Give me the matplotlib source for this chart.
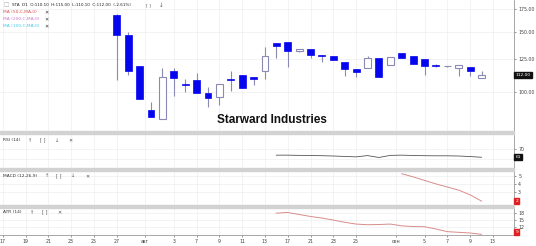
import matplotlib.pyplot as plt
import numpy as np
from matplotlib.patches import Rectangle

# daily candles (bar index 0 = first visible candle)
opens = [168.7, 147.4, 119.2, 88.5, 83.5, 115.5, 105.4, 108.2, 99.1, 96.5, 109.0,
         112.0, 110.5, 115.3, 139.0, 140.0, 132.2, 133.5, 128.7, 127.6, 122.8, 117.1,
         117.4, 125.9, 120.3, 130.2, 127.9, 124.8, 119.7, 119.0, 117.9, 118.7, 110.1]
highs = [169.5, 149.8, 119.2, 93.3, 117.9, 117.9, 109.0, 113.7, 103.2, 105.6, 115.3,
         112.0, 110.5, 135.9, 139.0, 140.0, 133.8, 133.5, 128.7, 127.6, 122.8, 117.1,
         127.6, 125.9, 127.0, 130.2, 127.9, 124.8, 120.6, 119.4, 120.3, 118.7, 115.0]
lows = [108.5, 112.4, 95.4, 84.4, 83.5, 97.5, 99.8, 99.5, 90.5, 91.6, 100.7,
        102.5, 104.6, 109.4, 125.6, 118.7, 130.8, 125.6, 122.3, 124.2, 111.4, 110.5,
        117.4, 110.5, 120.3, 125.6, 120.6, 112.2, 118.4, 118.8, 111.7, 111.7, 110.1]
closes = [147.4, 115.0, 95.4, 84.4, 110.5, 110.2, 104.8, 99.5, 96.2, 105.6, 108.5,
          102.5, 109.2, 127.6, 136.5, 132.2, 133.8, 128.4, 127.9, 124.2, 116.6, 114.3,
          125.6, 110.5, 127.0, 125.6, 120.6, 119.5, 119.0, 119.2, 120.3, 115.0, 112.0]

rsi_start = 14
rsi = [63.8, 63.8, 63.6, 63.5, 63.3, 63.0, 62.6, 62.2, 63.4, 61.6, 63.6, 63.8,
       63.5, 63.3, 63.2, 63.2, 63.0, 62.5, 61.8]
macd_start = 25
macd = [5.3, 4.9, 4.45, 4.0, 3.6, 3.2, 2.6, 1.8]
atr_start = 14
atr = [18.1, 18.4, 17.5, 16.6, 15.9, 15.0, 14.0, 13.2, 12.9, 13.0, 13.2, 12.4,
       12.1, 12.0, 11.0, 9.8, 9.5, 9.2, 8.6]

tick_pos = [-10, -8, -6, -4, -2, 0, 2.5, 5, 7, 9, 11, 13, 15, 17, 19, 21, 24.5, 27, 29, 31, 33]
tick_lab = ["17", "19", "21", "23", "25", "27", "авг", "3", "7", "9", "11", "13",
            "17", "21", "23", "25", "сен", "5", "7", "9", "13"]

W, H = 536, 246
fig = plt.figure(figsize=(W / 100, H / 100), dpi=100)
fig.patch.set_facecolor("white")


def rect(x0, y0, x1, y1):
    return [x0 / W, 1 - y1 / H, (x1 - x0) / W, (y1 - y0) / H]


XR = 514
ax = fig.add_axes(rect(0, 0, XR, 131))
ax_rsi = fig.add_axes(rect(0, 135, XR, 168), sharex=ax)
ax_macd = fig.add_axes(rect(0, 171, XR, 205), sharex=ax)
ax_atr = fig.add_axes(rect(0, 208, XR, 235), sharex=ax)

# separators between panes
for y0, y1 in [(131, 134), (168, 170.5), (205, 207.5)]:
    fig.patches.append(Rectangle((0, 1 - y1 / H), XR / W, (y1 - y0) / H,
                                 transform=fig.transFigure, color="#d2d2d2", zorder=5))

blue = "#0505ee"
edge = "#8a8ab4"
x = np.arange(len(opens))
o = np.array(opens)
c = np.array(closes)
up = c >= o
ax.vlines(x, lows, highs, color=edge, lw=0.8, zorder=2)
bottom = np.minimum(o, c)
height = np.maximum(np.abs(c - o), 0.6)
ax.bar(x[~up], height[~up], bottom=bottom[~up], width=0.6, color=blue,
       edgecolor=blue, lw=0.5, zorder=3)
ax.bar(x[up], height[up], bottom=bottom[up], width=0.6, color="white",
       edgecolor=edge, lw=0.8, zorder=3)

ax.set_yscale("log")
ax.set_ylim(76.8, 186.4)
ax.set_xlim(-10.24, 34.85)
ax.set_yticks([100, 125, 150, 175])
ax.set_yticklabels(["100.00", "125.00", "150.00", "175.00"])
ax.minorticks_off()

ax.text(271.7 / XR, 1 - 120 / 131, "Starward Industries", transform=ax.transAxes,
        ha="center", va="center", fontsize=8.5, fontweight="bold",
        family="Liberation Sans", color="#111111")

# header / legend texts
ax.text(3 / XR, 1 - 5 / 131, "\u25a1", transform=ax.transAxes, fontsize=4,
        color="#aaaaaa", va="center")
ax.text(12 / XR, 1 - 5 / 131, "STA  D1  O:110.10  H:115.00  L:110.10  C:112.00  (-2.61%)",
        transform=ax.transAxes, fontsize=3.0, color="#222222", va="center")
ax.text(148 / XR, 1 - 5 / 131, "[ ]", transform=ax.transAxes, fontsize=3.2,
        color="#555555", va="center", ha="center")
ax.text(161 / XR, 1 - 5 / 131, "↓", transform=ax.transAxes, fontsize=4,
        color="#555555", va="center", ha="center")
ma_lab = ["MA (50,C,MA,0)", "MA (200,C,MA,0)", "MA (100,C,MA,0)"]
ma_col = ["#e05050", "#cc77cc", "#44c8e8"]
for i, (lab, col) in enumerate(zip(ma_lab, ma_col)):
    yy = 1 - (11.7 + 7.3 * i) / 131
    ax.text(3.3 / XR, yy, lab, transform=ax.transAxes, fontsize=3.2, color=col, va="center")
    ax.text(44 / XR, yy, "✕", transform=ax.transAxes, fontsize=3.6, color="#333333",
            va="center")

# indicator lines
ax_rsi.plot(np.arange(len(rsi)) + rsi_start, rsi, color="#555555", lw=0.6)
ax_rsi.set_ylim(51.7, 82.8)
ax_rsi.set_yticks([60, 70])
ax_rsi.set_yticklabels(["", "70"])
ax_macd.plot(np.arange(len(macd)) + macd_start, macd, color="#d98c8c", lw=0.7)
ax_macd.set_ylim(1.3, 5.65)
ax_macd.set_yticks([3, 4, 5])
ax_atr.plot(np.arange(len(atr)) + atr_start, atr, color="#d98c8c", lw=0.7)
ax_atr.set_ylim(8.3, 20.4)
ax_atr.set_yticks([12, 15, 18])

pane_labels = [(ax_rsi, "RSI (14)", [30, 43, 57, 70], ["↑", "[ ]", "↓", "✕"], 140 - 135, 33),
               (ax_macd, "MACD (12,26,9)", [47, 59, 73, 87], ["↑", "[ ]", "↓", "✕"], 175.7 - 171, 34),
               (ax_atr, "ATR (14)", [32, 45, 59], ["↑", "[ ]", "✕"], 212.3 - 208, 27)]
for a, lab, xs, icons, ypx, hpx in pane_labels:
    yy = 1 - ypx / hpx
    a.text(3 / XR, yy, lab, transform=a.transAxes, fontsize=3.2, color="#333333", va="center")
    for xi, ic in zip(xs, icons):
        a.text(xi / XR, yy, ic, transform=a.transAxes, fontsize=3.6, color="#555555",
               va="center", ha="center")

for a in [ax, ax_rsi, ax_macd, ax_atr]:
    a.set_facecolor("white")
    for s in ["left", "top", "bottom"]:
        a.spines[s].set_visible(False)
    a.spines["right"].set_color("#999999")
    a.spines["right"].set_linewidth(0.6)
    a.yaxis.tick_right()
    a.tick_params(axis="y", labelsize=3.4, length=1.5, width=0.4, colors="#444444", pad=1.5)
    a.set_xticks(tick_pos)
    a.grid(True, color="#eeeeee", lw=0.5)
    a.set_axisbelow(True)
    a.tick_params(axis="x", length=0, labelbottom=False)

ax_atr.spines["bottom"].set_visible(True)
ax_atr.spines["bottom"].set_color("#999999")
ax_atr.spines["bottom"].set_linewidth(0.6)
ax_atr.set_xticklabels(tick_lab)
ax_atr.tick_params(axis="x", labelbottom=True, labelsize=3.4, length=1.5, width=0.4,
                   colors="#444444", pad=1.5)

# last value boxes on the price scale
boxes = [(ax, closes[-1], "112.00", "#111111"), (ax_rsi, rsi[-1], "61", "#111111"),
         (ax_macd, macd[-1], "2", "#e02020"), (ax_atr, 9.5, "9", "#e02020")]
for a, val, txt, col in boxes:
    a.text(1.003, val, txt, transform=a.get_yaxis_transform(), fontsize=3.2,
           color="white", va="center", ha="left", zorder=10, clip_on=False,
           bbox=dict(boxstyle="square,pad=0.25", fc=col, ec=col))

fig.savefig("out.png", dpi=100, facecolor="white")
